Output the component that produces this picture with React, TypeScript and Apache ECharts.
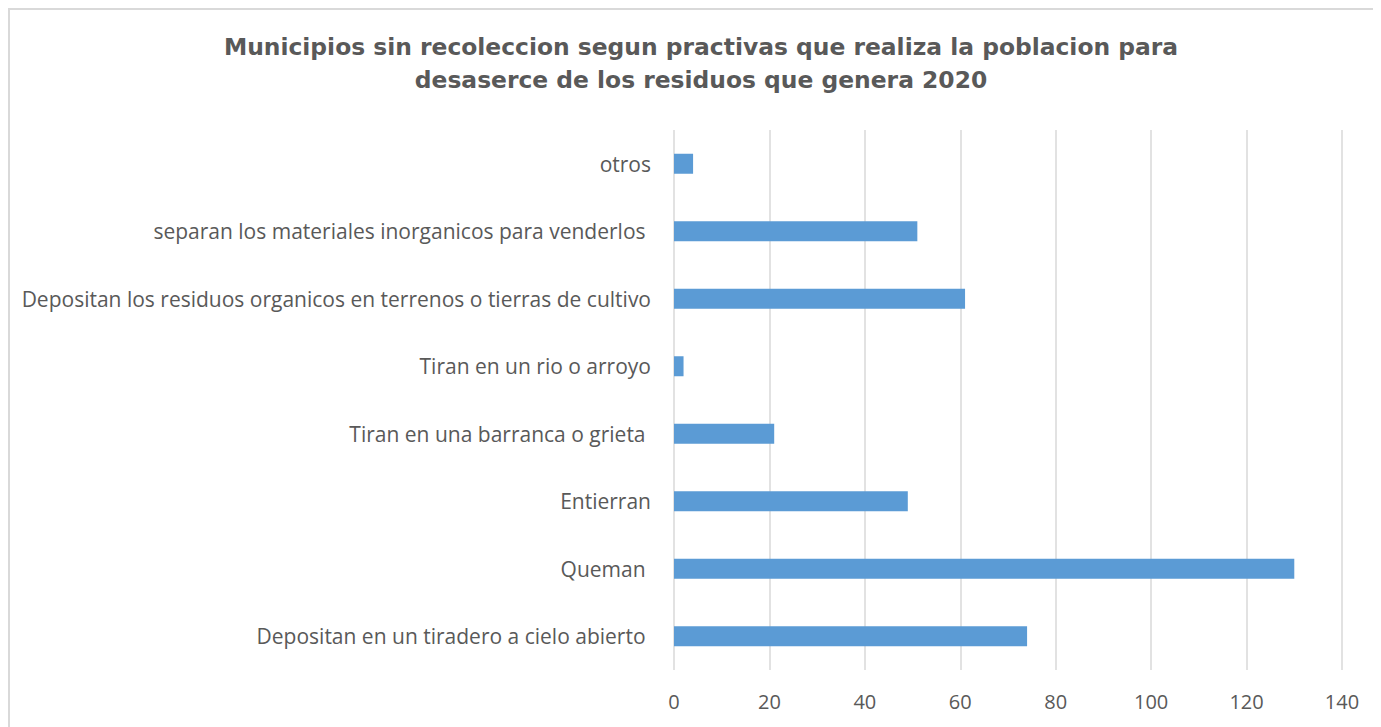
import React, { useEffect, useRef } from "react";
import * as echarts from "echarts";

const titleLines = [
  "Municipios sin recoleccion segun practivas que realiza la poblacion para",
  "desaserce de los residuos que genera 2020",
];

const categories = [
  "Depositan en un tiradero a cielo abierto ",
  "Queman ",
  "Entierran",
  "Tiran en una barranca o grieta ",
  "Tiran en un rio o arroyo",
  "Depositan los residuos organicos en terrenos o tierras de cultivo",
  "separan los materiales inorganicos para venderlos ",
  "otros",
];

const values = [74, 130, 49, 21, 2, 61, 51, 4];

const xTicks = { min: 0, max: 140, interval: 20 };

export default function App() {
  const ref = useRef<HTMLDivElement>(null);
  useEffect(() => {
    if (!ref.current) return;
    const chart = echarts.init(ref.current, undefined, { renderer: "svg" });
    chart.setOption({
      animation: false,
      backgroundColor: "#ffffff",
      title: {
        text: titleLines.join("\n"),
        left: 686,
        top: 15,
        textAlign: "center",
        textStyle: {
          fontFamily: "DejaVu Sans, sans-serif",
          fontWeight: "bold",
          fontSize: 23.4,
          color: "#595959",
          lineHeight: 33,
        },
      },
      grid: { left: 664, right: 39, top: 120, bottom: 57, containLabel: false },
      xAxis: {
        type: "value",
        min: xTicks.min,
        max: xTicks.max,
        interval: xTicks.interval,
        axisLine: { show: false },
        axisTick: { show: false },
        splitLine: { show: true, lineStyle: { color: "#d9d9d9", width: 1.5 } },
        axisLabel: {
          color: "#595959",
          fontSize: 20,
          fontFamily: "Open Sans, sans-serif",
          margin: 21,
        },
      },
      yAxis: {
        type: "category",
        data: categories,
        axisLine: { show: false },
        axisTick: { show: false },
        splitLine: { show: false },
        axisLabel: {
          color: "#595959",
          fontSize: 21,
          fontFamily: "Open Sans, sans-serif",
          margin: 23,
        },
      },
      series: [
        {
          type: "bar",
          data: values,
          barWidth: 20,
          itemStyle: { color: "#5b9bd5" },
        },
      ],
    });
    return () => chart.dispose();
  }, []);
  return (
    <div
      ref={ref}
      style={{
        width: 1373,
        height: 719,
        borderLeft: "2px solid #d9d9d9",
        borderTop: "2px solid #d9d9d9",
        boxSizing: "border-box",
      }}
    />
  );
}
